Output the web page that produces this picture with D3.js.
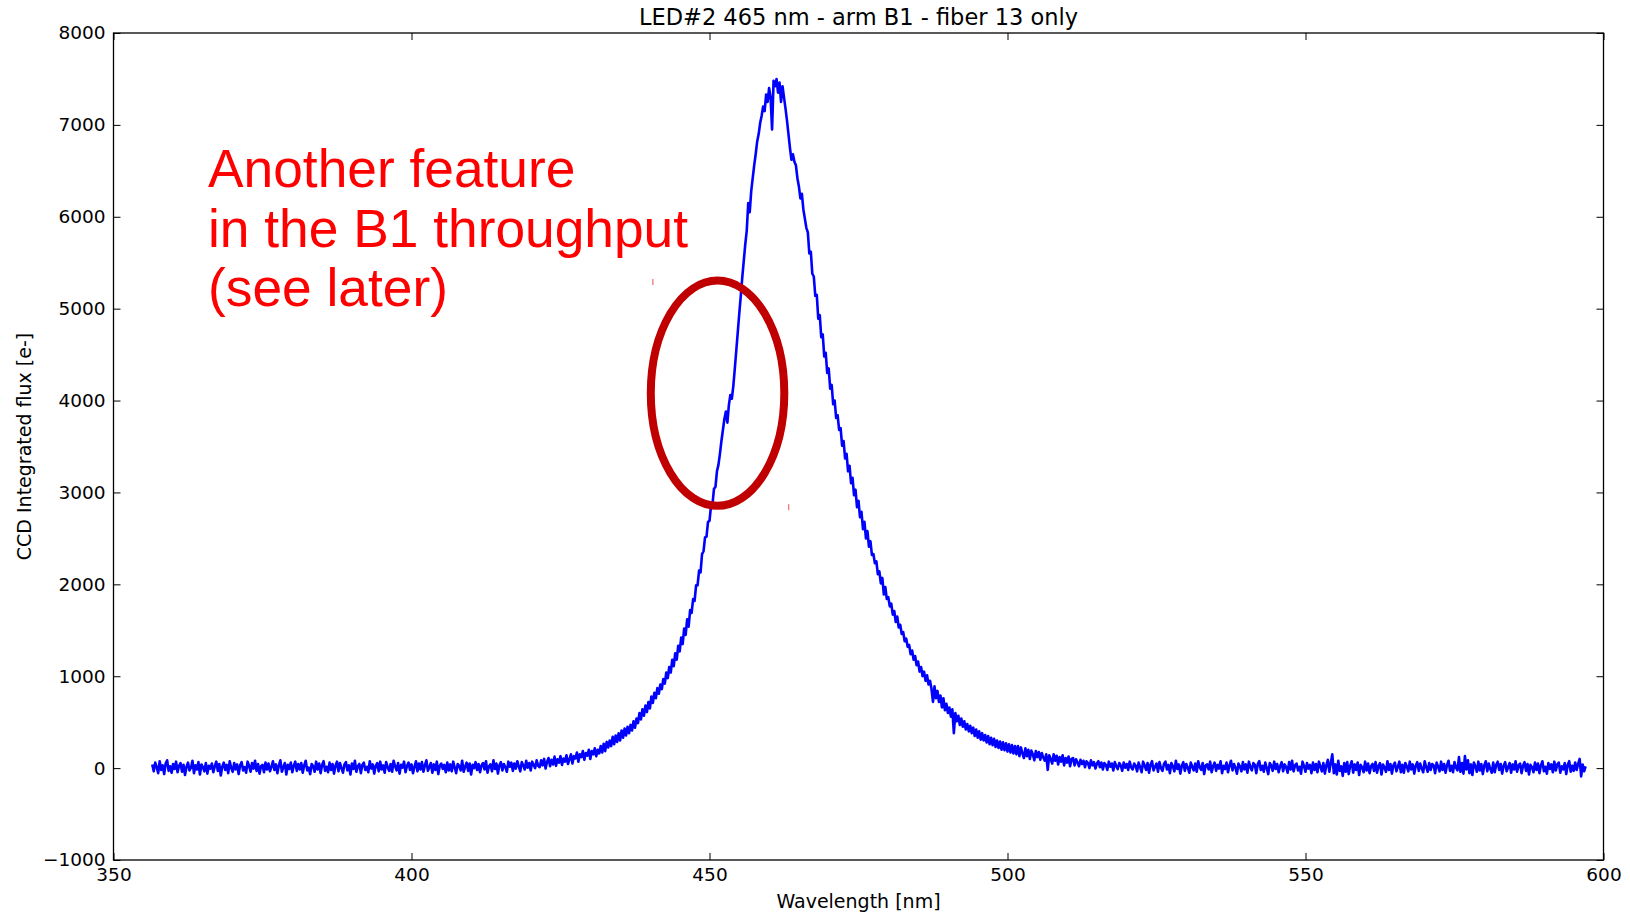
<!DOCTYPE html>
<html>
<head>
<meta charset="utf-8">
<script src="https://cdn.jsdelivr.net/npm/d3@7"></script>
<style>
  html, body { margin: 0; padding: 0; background: #fff; }
  svg { display: block; }
  text { font-family: "DejaVu Sans", sans-serif; fill: #000; }
</style>
</head>
<body>
<svg id="chart" width="1630" height="916"></svg>
<script>
// ---------------- data ----------------
const chartTitle = "LED#2 465 nm - arm B1 - fiber 13 only";
const xLabel = "Wavelength [nm]";
const yLabel = "CCD Integrated flux [e-]";
const xDomain = [350, 600];
const yDomain = [-1000, 8000];
const xTicks = [350, 400, 450, 500, 550, 600];
const yTicks = [-1000, 0, 1000, 2000, 3000, 4000, 5000, 6000, 7000, 8000];

// spectrum samples: first wavelength and sampling step [nm]
const lambdaStart = 356.5;
const lambdaStep = 0.25;
// CCD integrated flux [e-], one value per sample (20 samples = 5 nm per row)
const flux = [
  40, -35, 60, 10, -55, 75, -20, 30, -65, 50, 85, -30, 20, -50, 45, -10, 70, -45, 25, 55,            // 356.5
  -40, 35, -75, 15, 60, -25, 5, 80, -55, 30, -15, 65, -70, 40, 10, -35, 55, -60, 25, -5,             // 361.5
  50, -45, 20, 70, -30, 45, -80, 15, 60, -20, 35, -55, 75, 0, -40, 55, -15, 40, -65, 30,             // 366.5
  65, -25, 10, -50, 70, 25, -40, 55, -5, 80, -30, 45, -60, 20, 35, -45, 60, -15, 50, -35,            // 371.5
  15, 75, -20, 40, -55, 30, 85, -40, 10, 55, -70, 35, -10, 60, -45, 25, 70, -30, 45, -15,            // 376.5
  55, -50, 30, 80, -25, 5, -65, 45, 20, -40, 70, -15, 50, -55, 35, 75, -30, 15, -45, 60,             // 381.5
  -20, 45, -60, 25, 70, -35, 55, 0, -50, 40, 65, -25, 30, -70, 50, -10, 80, -40, 20, 45,             // 386.5
  -55, 35, 60, -20, 15, -45, 75, -5, 40, -60, 25, 55, -35, 70, -15, 30, -50, 65, 10, -30,            // 391.5
  45, -40, 80, 20, -25, 55, -60, 35, 5, 70, -45, 25, 60, -20, 40, -55, 15, 75, -35, 50,              // 396.5
  -15, 65, -40, 30, 85, -30, 10, 55, -50, 40, -20, 70, -65, 25, 50, -10, 35, -45, 60, -25,           // 401.5
  40, -35, 70, 5, -55, 45, 25, -25, 80, -40, 15, 60, -30, 50, -70, 35, 0, 65, -20, 45,               // 406.5
  -45, 30, 55, -15, 75, -50, 20, 40, -35, 85, -10, 50, -60, 30, 65, -25, 45, 10, -40, 70,            // 411.5
  15, 60, -30, 50, -5, 75, 20, -35, 65, 30, -15, 80, 5, 55, -25, 70, 35, 0, 85, 25,                  // 416.5
  10, 85, 30, 100, -5, 70, 110, 20, 90, 40, 125, 25, 95, 60, 130, 35, 105, 70, 140, 45,              // 421.5
  95, 150, 50, 130, 105, 170, 70, 150, 120, 185, 90, 165, 135, 200, 100, 185, 150, 215, 130, 200,    // 426.5
  160, 240, 170, 265, 185, 285, 225, 300, 240, 340, 260, 355, 285, 380, 300, 410, 330, 430, 355, 450,// 431.5
  380, 470, 410, 510, 440, 540, 490, 600, 530, 640, 570, 680, 610, 720, 650, 780, 710, 820, 760, 870,// 436.5
  810, 910, 860, 970, 920, 1040, 980, 1100, 1040, 1180, 1110, 1250, 1180, 1330, 1270, 1420, 1350, 1520, 1450, 1620, // 441.5
  1540, 1720, 1690, 1840, 1820, 1990, 1990, 2150, 2130, 2330, 2360, 2510, 2520, 2680, 2690, 2850, 2870, 3040, 3060, 3230, // 446.5
  3300, 3420, 3560, 3680, 3800, 3880, 3760, 3950, 4060, 4020, 4160, 4350, 4550, 4750, 4950, 5140, 5340, 5520, 5700, 5850, // 451.5
  6150, 6050, 6280, 6420, 6560, 6680, 6820, 6900, 7020, 7100, 7200, 7150, 7330, 7250, 7400, 7300, 6950, 7480, 7420, 7500, // 456.5
  7350, 7460, 7250, 7420, 7300, 7180, 7050, 6900, 6750, 6620, 6680, 6600, 6560, 6420, 6330, 6200, 6250, 6080, 5980, 5880, // 461.5
  5830, 5600, 5620, 5380, 5350, 5140, 5150, 4890, 4930, 4690, 4720, 4480, 4520, 4300, 4350, 4130, 4170, 3960, 4000, 3810, // 466.5
  3840, 3680, 3700, 3510, 3560, 3370, 3420, 3230, 3290, 3100, 3160, 2970, 3030, 2840, 2910, 2730, 2790, 2600, 2680, 2500, // 471.5
  2580, 2410, 2470, 2320, 2330, 2230, 2250, 2110, 2140, 2010, 2070, 1890, 1970, 1840, 1860, 1760, 1790, 1670, 1710, 1590, // 476.5
  1650, 1530, 1560, 1460, 1480, 1380, 1410, 1320, 1340, 1240, 1280, 1180, 1220, 1120, 1160, 1050, 1100, 1000, 1050, 950,  // 481.5
  1010, 910, 950, 860, 720, 890, 760, 840, 720, 790, 660, 760, 630, 700, 600, 660, 560, 640, 380, 600, // 486.5
  510, 570, 470, 540, 450, 510, 420, 480, 400, 460, 380, 440, 350, 420, 330, 400, 310, 380, 300, 360, // 491.5
  280, 350, 260, 330, 250, 320, 230, 300, 220, 290, 200, 280, 195, 270, 180, 260, 170, 250, 160, 240, // 496.5
  150, 240, 130, 225, 160, 110, 215, 130, 200, 100, 190, 150, 85, 185, 120, 175, 90, 165, 115, 80,   // 501.5
  150, -20, 140, 100, 50, 150, 80, 135, 40, 120, 70, 140, 30, 110, 60, 125, 20, 100, 110, 30,        // 506.5
  95, 60, 20, 90, 45, 80, 10, 75, 55, 0, 85, 30, 65, -5, 50, 75, 10, 60, -15, 55,                    // 511.5
  35, -20, 70, 15, 50, -25, 65, 20, -10, 55, 30, -30, 60, 5, 45, -20, 70, 10, -15, 50,               // 516.5
  25, -35, 60, 10, -45, 70, 30, -20, 55, -50, 40, 75, -25, 15, 50, -40, 65, 0, -30, 45,              // 521.5
  70, -15, 35, -55, 55, 20, -35, 80, -10, 40, -60, 25, 65, -30, 45, 5, -50, 60, 15, -25,             // 526.5
  50, -40, 75, 10, -20, 55, -65, 30, 40, -15, 70, -45, 20, 60, -30, 35, -5, 75, -55, 25,             // 531.5
  -10, 60, -45, 30, 80, -25, 45, 5, -60, 50, 20, -35, 65, -15, 40, -50, 70, 10, -25, 55,             // 536.5
  35, -55, 45, 75, -20, 25, -40, 60, 0, -65, 55, 30, -30, 70, -10, 45, -45, 20, 65, -35,             // 541.5
  40, 10, -50, 65, -15, 80, -35, 30, 50, -25, 15, -60, 70, 20, -40, 55, -5, 35, -55, 60,             // 546.5
  -20, 45, -45, 70, 15, -35, 55, -60, 30, 90, -40, 60, 150, -55, 40, -70, 80, -30, 20, -85,          // 551.5
  55, -40, 65, -65, 25, 75, -50, 40, -20, 60, -75, 35, 10, -45, 70, -25, 50, -55, 20, 45,            // 556.5
  -30, 65, -50, 25, 55, -70, 40, 5, -40, 75, -20, 45, -60, 30, 60, -35, 15, 70, -45, 35,             // 561.5
  -50, 55, 20, -35, 70, -15, 40, -60, 25, 65, -30, 50, -5, -45, 75, 10, -40, 55, -20, 45,            // 566.5
  30, -55, 60, 15, -35, 70, -20, 45, -50, 35, 80, -30, 25, -45, 65, 5, -25, 120, -40, 55,            // 571.5
  -60, 130, -15, 85, -55, 40, -75, 60, 20, -40, 70, -25, 45, -65, 30, 75, -35, 50, -10, -50,         // 576.5
  60, -45, 35, 70, -20, 45, -60, 25, 65, -35, 10, 55, -50, 40, -15, 75, -40, 30, 50, -55,            // 581.5
  25, 65, -30, 45, -70, 35, 10, -45, 60, -20, 50, -55, 30, 75, -35, 15, -60, 55, -10, 40,            // 586.5
  -45, 70, -25, 40, 60, -50, 20, -15, 55, -65, 35, 75, -40, 25, -30, 60, -20, 45, 100, -90,          // 591.5
  40, -35, 20                                                                                          // 596.5
];

// annotation
const noteLines = ["Another feature", "in the B1 throughput", "(see later)"];
const ellipseCenter = [451.35, 4080];  // [nm, e-]
const ellipseRadii = [11.2, 1226];     // [nm, e-]

// ---------------- drawing ----------------
const svg = d3.select("#chart");
const W = 1630, H = 916;
const plot = { left: 113.5, right: 1603.5, top: 33, bottom: 860 };

const x = d3.scaleLinear().domain(xDomain).range([plot.left, plot.right]);
const y = d3.scaleLinear().domain(yDomain).range([plot.bottom, plot.top]);

svg.append("rect").attr("width", W).attr("height", H).attr("fill", "#fff");

const fmt = v => (v < 0 ? "\u2212" + Math.abs(v) : String(v));
const TICK = 7;

function styleAxis(g) {
  g.select(".domain").remove();
  g.selectAll(".tick line").attr("stroke", "#000").attr("stroke-width", 1);
  g.selectAll(".tick text")
    .style("font-family", "'DejaVu Sans', sans-serif")
    .style("font-size", "18.5px")
    .attr("fill", "#000");
}

// bottom axis
svg.append("g")
  .attr("transform", `translate(0,${plot.bottom})`)
  .call(d3.axisBottom(x).tickValues(xTicks).tickFormat(fmt)
    .tickSizeInner(-TICK).tickSizeOuter(0).tickPadding(8))
  .call(styleAxis);
// top axis (ticks only)
svg.append("g")
  .attr("transform", `translate(0,${plot.top})`)
  .call(d3.axisTop(x).tickValues(xTicks).tickFormat(() => "")
    .tickSizeInner(-TICK).tickSizeOuter(0))
  .call(styleAxis);
// left axis
svg.append("g")
  .attr("transform", `translate(${plot.left},0)`)
  .call(d3.axisLeft(y).tickValues(yTicks).tickFormat(fmt)
    .tickSizeInner(-TICK).tickSizeOuter(0).tickPadding(8))
  .call(styleAxis);
// right axis (ticks only)
svg.append("g")
  .attr("transform", `translate(${plot.right},0)`)
  .call(d3.axisRight(y).tickValues(yTicks).tickFormat(() => "")
    .tickSizeInner(-TICK).tickSizeOuter(0))
  .call(styleAxis);

// spectrum line
const pts = flux.map((v, i) => [lambdaStart + i * lambdaStep, v]);
const line = d3.line().x(d => x(d[0])).y(d => y(d[1]));
svg.append("path")
  .datum(pts)
  .attr("d", line)
  .attr("fill", "none")
  .attr("stroke", "#0000ff")
  .attr("stroke-width", 2.6)
  .attr("stroke-linejoin", "round");

// frame
svg.append("rect")
  .attr("x", plot.left).attr("y", plot.top)
  .attr("width", plot.right - plot.left).attr("height", plot.bottom - plot.top)
  .attr("fill", "none").attr("stroke", "#000").attr("stroke-width", 1.3);

// title and axis labels
svg.append("text")
  .attr("x", (plot.left + plot.right) / 2).attr("y", 25)
  .attr("text-anchor", "middle")
  .style("font-size", "22.5px")
  .text(chartTitle);

svg.append("text")
  .attr("x", (plot.left + plot.right) / 2).attr("y", 908)
  .attr("text-anchor", "middle")
  .style("font-size", "19px")
  .text(xLabel);

svg.append("text")
  .attr("transform", `translate(31,${(plot.top + plot.bottom) / 2}) rotate(-90)`)
  .attr("text-anchor", "middle")
  .style("font-size", "19px")
  .text(yLabel);

// annotation text
const note = svg.append("text")
  .attr("x", 208)
  .attr("y", 187)
  .style("font-family", "'Liberation Sans', Arial, sans-serif")
  .style("font-size", "53.3px")
  .style("fill", "#ff0000");
noteLines.forEach((t, i) => {
  note.append("tspan").attr("x", 208).attr("y", 187 + i * 59.6).text(t);
});

// ellipse highlighting the feature
svg.append("ellipse")
  .attr("cx", x(ellipseCenter[0]))
  .attr("cy", y(ellipseCenter[1]))
  .attr("rx", x(xDomain[0] + ellipseRadii[0]) - x(xDomain[0]))
  .attr("ry", y(yDomain[0]) - y(yDomain[0] + ellipseRadii[1]))
  .attr("fill", "none")
  .attr("stroke", "#c00000")
  .attr("stroke-width", 8);

// small selection marks left on the slide
const marks = [[440.5, 5290], [463.3, 2840]];
svg.selectAll("line.mark").data(marks).enter().append("line")
  .attr("class", "mark")
  .attr("x1", d => x(d[0])).attr("x2", d => x(d[0]))
  .attr("y1", d => y(d[1]) - 3).attr("y2", d => y(d[1]) + 3)
  .attr("stroke", "#e05050").attr("stroke-width", 1);
</script>
</body>
</html>
